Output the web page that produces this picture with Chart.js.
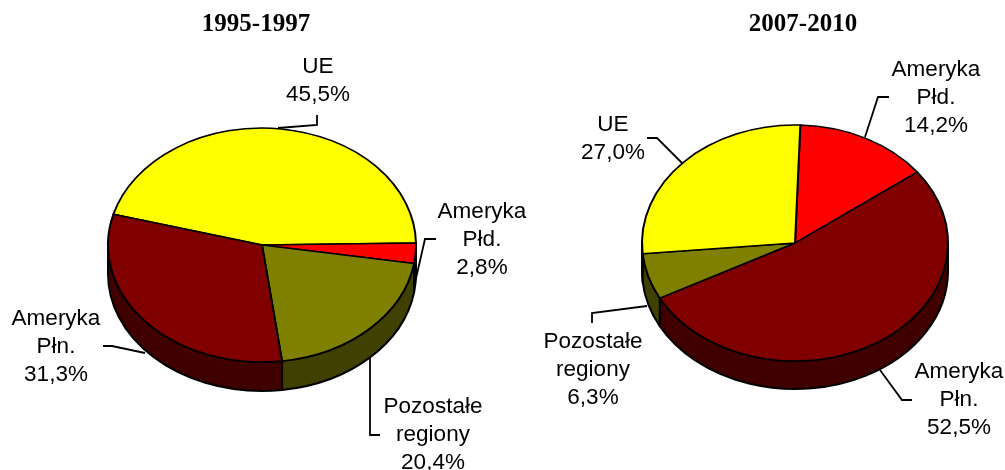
<!DOCTYPE html>
<html>
<head>
<meta charset="utf-8">
<style>
  html, body { margin: 0; padding: 0; background: #fff; }
  #wrap { position: relative; width: 1005px; height: 470px; overflow: hidden; }
  canvas { position: absolute; top: 0; }
  #pieLeft { left: 0; }
  #pieRight { left: 535px; }
</style>
<script src="https://cdn.jsdelivr.net/npm/chart.js@4/dist/chart.umd.min.js"></script>
</head>
<body>
<div id="wrap">
  <canvas id="pieLeft" width="535" height="470"></canvas>
  <canvas id="pieRight" width="470" height="470"></canvas>
</div>
<script>
// --- data ---
const titleLeft = '1995-1997';
const titleRight = '2007-2010';
const regionsLeft = ['UE', 'Ameryka Płd.', 'Pozostałe regiony', 'Ameryka Płn.'];
const valuesLeft = [45.5, 2.8, 20.4, 31.3];
const regionsRight = ['Ameryka Płd.', 'Ameryka Płn.', 'Pozostałe regiony', 'UE'];
const valuesRight = [14.2, 52.5, 6.3, 27.0];

// --- colours ---
const topColors = { 'UE': '#FFFF00', 'Ameryka Płd.': '#FF0000', 'Pozostałe regiony': '#808000', 'Ameryka Płn.': '#800000' };
const sideColors = { 'UE': '#808000', 'Ameryka Płd.': '#800000', 'Pozostałe regiony': '#404000', 'Ameryka Płn.': '#400000' };

// --- layout (page pixels) ---
const LINE_H = 28;
const layoutLeft = {
  canvasX: 0, cx: 262, cy: 245, rx: 154, ry: 117, depth: 29,
  titleX: 256, titleY: 31,
  notes: {
    'UE': { x: 318, y: 73, leader: [[278, 128], [317, 125], [317, 115]] },
    'Ameryka Płd.': { x: 482, y: 218, leader: [[436, 239], [425, 239], [414, 287]] },
    'Pozostałe regiony': { x: 433, y: 413, leader: [[370, 358], [370, 435], [380, 435]] },
    'Ameryka Płn.': { x: 56, y: 325, leader: [[103, 346], [112, 346], [145, 353]] }
  }
};
const layoutRight = {
  canvasX: 535, cx: 795, cy: 243, rx: 153, ry: 118, depth: 28,
  titleX: 803, titleY: 31,
  notes: {
    'UE': { x: 613, y: 131, leader: [[647, 138], [657, 138], [682, 163]] },
    'Ameryka Płd.': { x: 936, y: 76, leader: [[889, 97], [878, 97], [865, 137]] },
    'Pozostałe regiony': { x: 593, y: 348, leader: [[592, 323], [592, 313], [647, 306]] },
    'Ameryka Płn.': { x: 959, y: 378, leader: [[912, 400], [902, 400], [880, 370]] }
  }
};

// side wall of the cake plus the squash of the top face
const pie3d = {
  id: 'pie3d',
  beforeDatasetsDraw(chart, args, opts) {
    const ctx = chart.ctx;
    const arcs = chart.getDatasetMeta(0).data;
    const depth = opts.depth;
    const ry = opts.ry;
    ctx.save();
    ctx.lineWidth = 2;
    ctx.lineJoin = 'round';
    ctx.strokeStyle = '#000';
    arcs.forEach((arc, i) => {
      const name = chart.data.labels[i];
      // only the part facing the viewer (0..PI on canvas) has a visible wall
      [-2, 0, 2].forEach(k => {
        const a0 = Math.max(arc.startAngle + k * Math.PI, 0);
        const a1 = Math.min(arc.endAngle + k * Math.PI, Math.PI);
        if (a1 <= a0) return;
        const rx = arc.outerRadius;
        ctx.beginPath();
        ctx.ellipse(arc.x, arc.y, rx, ry, 0, a0, a1);
        ctx.ellipse(arc.x, arc.y + depth, rx, ry, 0, a1, a0, true);
        ctx.closePath();
        ctx.fillStyle = sideColors[name];
        ctx.fill();
        ctx.stroke();
      });
    });
    ctx.restore();

    const first = arcs[0];
    ctx.save();
    ctx.translate(first.x, first.y);
    ctx.scale(1, ry / first.outerRadius);
    ctx.translate(-first.x, -first.y);
  },
  afterDatasetsDraw(chart) {
    chart.ctx.restore();
  },
  afterDraw(chart, args, opts) {
    const ctx = chart.ctx;
    const lay = opts.layout;
    ctx.save();
    ctx.translate(-lay.canvasX, 0);
    ctx.textAlign = 'center';
    ctx.textBaseline = 'alphabetic';
    ctx.fillStyle = '#000';
    ctx.font = 'bold 25px "Liberation Serif"';
    ctx.fillText(opts.title, lay.titleX, lay.titleY);

    ctx.font = '22.5px "Liberation Sans"';
    chart.data.labels.forEach((name, i) => {
      const note = lay.notes[name];
      const value = chart.data.datasets[0].data[i].toFixed(1).replace('.', ',') + '%';
      const lines = name.split(' ').concat(value);
      lines.forEach((line, j) => ctx.fillText(line, note.x, note.y + j * LINE_H));
      ctx.beginPath();
      note.leader.forEach((p, j) => j ? ctx.lineTo(p[0], p[1]) : ctx.moveTo(p[0], p[1]));
      ctx.lineWidth = 1.8;
      ctx.strokeStyle = '#000';
      ctx.stroke();
    });
    ctx.restore();
  }
};

function makePie(canvasId, title, regions, values, lay, startAngle) {
  const canvas = document.getElementById(canvasId);
  const localCx = lay.cx - lay.canvasX;
  return new Chart(canvas, {
    type: 'pie',
    data: {
      labels: regions,
      datasets: [{
        data: values,
        backgroundColor: regions.map(r => topColors[r]),
        borderColor: '#000',
        borderWidth: 2,
        borderJoinStyle: 'round'
      }]
    },
    options: {
      responsive: false,
      animation: false,
      events: [],
      radius: lay.rx,
      rotation: startAngle,
      layout: {
        padding: {
          left: Math.max(2 * localCx - canvas.width, 0),
          right: Math.max(canvas.width - 2 * localCx, 0),
          top: Math.max(2 * lay.cy - canvas.height, 0),
          bottom: Math.max(canvas.height - 2 * lay.cy, 0)
        }
      },
      plugins: {
        legend: { display: false },
        tooltip: { enabled: false },
        pie3d: { depth: lay.depth, ry: lay.ry, layout: lay, title: title }
      }
    },
    plugins: [pie3d]
  });
}

makePie('pieLeft', titleLeft, regionsLeft, valuesLeft, layoutLeft, -74.8);
makePie('pieRight', titleRight, regionsRight, valuesRight, layoutRight, 2);
</script>
</body>
</html>
